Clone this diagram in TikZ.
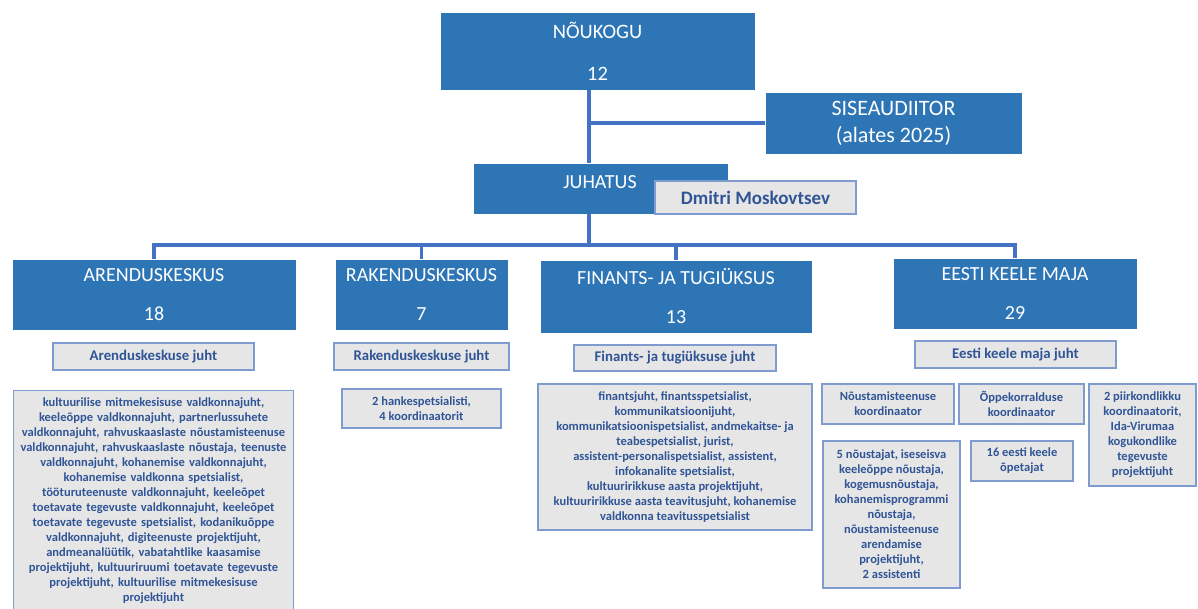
\documentclass[tikz,border=0pt]{standalone}
\usepackage{fontspec}
\setmainfont{Carlito}
\definecolor{boxblue}{HTML}{2E75B6}
\definecolor{linkblue}{HTML}{4472C4}
\definecolor{graybg}{HTML}{E7E6E6}
\definecolor{grayedge}{HTML}{7F9BCF}
\definecolor{txtblue}{HTML}{2F5597}
\tikzset{
  bluebox/.style={fill=boxblue, draw=white, line width=0.6pt, text=white, align=center, inner sep=0pt},
  bluetxt/.style={text=white, inner sep=0pt},
  graybox/.style={fill=graybg, draw=grayedge, line width=1.3pt, text=txtblue, align=center, inner sep=0pt, font=\bfseries},
  conn/.style={draw=linkblue, line width=3.2pt},
  big/.style={font=\fontsize{20}{24}\selectfont},
  small/.style={font=\bfseries\fontsize{12.5}{15}\selectfont},
  head/.style={font=\bfseries\fontsize{14.8}{17}\selectfont},
}
\begin{document}
\begin{tikzpicture}[x=1pt,y=-1pt]
\useasboundingbox (0,0) rectangle (1198,608);
\coordinate (trunk) at (589,0);
\coordinate (bus) at (0,245);
% top level
\node[bluebox, font=\fontsize{20.5}{24}\selectfont, minimum width=315, minimum height=78] (nk) at (597.5,51) {NÕUKOGU\\[18pt]12};
\node[bluebox, font=\fontsize{22}{25}\selectfont, minimum width=257, minimum height=62] (sis) at (893.5,123) {SISEAUDIITOR\\[2pt](alates 2025)};
\node[bluebox, minimum width=255, minimum height=51] (juh) at (600.5,188.5) {};
\node[bluetxt, big] (juhT) at (600,182) {JUHATUS};
\node[graybox, font=\bfseries\fontsize{19}{22}\selectfont, minimum width=201, minimum height=33] (dm) at (755.5,197.5) {Dmitri Moskovtsev};
% connectors top
\draw[conn] (nk.south -| trunk) -- (juh.north -| trunk);
\draw[conn] (trunk |- sis.west) -- (sis.west);
% departments
\node[bluebox, big, minimum width=284, minimum height=71] (ar) at (154,294.5) {ARENDUSKESKUS\\[15pt]18};
\node[bluebox, big, minimum width=173, minimum height=71] (rk) at (421.5,294.5) {RAKENDUSKESKUS\\[15pt]7};
\node[bluebox, big, minimum width=272, minimum height=73] (fn) at (676,296.5) {FINANTS- JA TUGIÜKSUS\\[15pt]13};
\node[bluebox, big, minimum width=244, minimum height=71] (ek) at (1015,293.5) {EESTI KEELE MAJA\\[15pt]29};
\draw[conn] (juh.south -| trunk) -- (trunk |- bus);
\draw[conn] (ar.north) |- (ek.north |- bus) -- (ek.north);
\draw[conn] (rk.north) -- (rk.north |- bus);
\draw[conn] (fn.north) -- (fn.north |- bus);
% heads
\node[graybox, head, minimum width=201, minimum height=27] (aj) at (153.5,356.5) {Arenduskeskuse juht};
\node[graybox, head, minimum width=175, minimum height=27] (rj) at (421.5,356.5) {Rakenduskeskuse juht};
\node[graybox, head, minimum width=202, minimum height=26] (fj) at (675,358) {Finants- ja tugiüksuse juht};
\node[graybox, head, minimum width=201, minimum height=27] (ej) at (1015.5,354.5) {Eesti keele maja juht};
% staff
\node[graybox, small, text width=280, inner ysep=7, anchor=north] (as) at (153.5,390) {kultuurilise mitmekesisuse valdkonnajuht,\\ keeleõppe valdkonnajuht, partnerlussuhete\\ valdkonnajuht, rahvuskaaslaste nõustamisteenuse\\ valdkonnajuht, rahvuskaaslaste nõustaja, teenuste\\ valdkonnajuht, kohanemise valdkonnajuht,\\ kohanemise valdkonna spetsialist,\\ tööturuteenuste valdkonnajuht, keeleõpet\\ toetavate tegevuste valdkonnajuht, keeleõpet\\ toetavate tegevuste spetsialist, kodanikuõppe\\ valdkonnajuht, digiteenuste projektijuht,\\ andmeanalüütik, vabatahtlike kaasamise\\ projektijuht, kultuuriruumi toetavate tegevuste\\ projektijuht, kultuurilise mitmekesisuse\\ projektijuht};
\node[graybox, small, minimum width=159, minimum height=39] (rs) at (421.5,408.5) {2 hankespetsialisti,\\ 4 koordinaatorit};
\node[graybox, small, minimum width=274, minimum height=146] (fs) at (675,457) {finantsjuht, finantsspetsialist,\\ kommunikatsioonijuht,\\ kommunikatsioonispetsialist, andmekaitse- ja\\ teabespetsialist, jurist,\\ assistent-personalispetsialist, assistent,\\ infokanalite spetsialist,\\ kultuuririkkuse aasta projektijuht,\\ kultuuririkkuse aasta teavitusjuht, kohanemise\\ valdkonna teavitusspetsialist};
\node[graybox, small, minimum width=132, minimum height=40] (e1) at (888,404) {Nõustamisteenuse\\ koordinaator};
\node[graybox, small, minimum width=125, minimum height=40] (e2) at (1021.5,404) {Õppekorralduse\\ koordinaator};
\node[graybox, small, minimum width=107, minimum height=102] (e3) at (1142.5,435) {2 piirkondlikku\\ koordinaatorit,\\ Ida-Virumaa\\ kogukondlike\\ tegevuste\\ projektijuht};
\node[graybox, small, minimum width=137, minimum height=147] (e4) at (891.5,514.5) {5 nõustajat, iseseisva\\ keeleõppe nõustaja,\\ kogemusnõustaja,\\ kohanemisprogrammi\\ nõustaja,\\ nõustamisteenuse\\ arendamise\\ projektijuht,\\ 2 assistenti};
\node[graybox, small, minimum width=102, minimum height=40] (e5) at (1022,461) {16 eesti keele\\ õpetajat};
\end{tikzpicture}
\end{document}
